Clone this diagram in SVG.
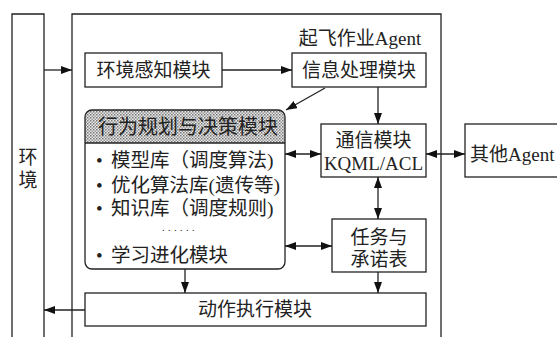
<svg xmlns="http://www.w3.org/2000/svg" width="557" height="337" viewBox="0 0 557 337">
<style>
.b{fill:#fff;stroke:#222;stroke-width:1.3}
.l{fill:none;stroke:#222;stroke-width:1.3}
.t{font-family:"Liberation Serif","Noto Sans CJK SC",serif;font-size:19px;fill:#222}
.m{text-anchor:middle}
.s{font-size:19.5px}
</style>
<defs>
<marker id="a" markerUnits="userSpaceOnUse" markerWidth="12" markerHeight="10" refX="11" refY="4" orient="auto-start-reverse">
<path d="M0,0 L11,4 L0,8 Z" fill="#111"/>
</marker>
<pattern id="h" width="3" height="3" patternUnits="userSpaceOnUse">
<rect width="3" height="3" fill="#e8e8e8"/>
<rect width="1.5" height="1.5" fill="#777"/>
<rect x="1.5" y="1.5" width="1.5" height="1.5" fill="#999"/>
</pattern>
<clipPath id="hc"><rect x="85" y="110" width="200" height="33"/></clipPath>
</defs>
<rect width="557" height="337" fill="#fff"/>
<g id="env">
<path class="l" d="M12,340 V14 H44 V340"/>
<text class="t m" x="28" y="164">环</text>
<text class="t m" x="28" y="187">境</text>
</g>
<g id="agent">
<path class="l" d="M72,340 V14 H441 V340"/>
<text class="t m" x="360" y="45">起飞作业Agent</text>
</g>
<g id="perceive">
<rect class="b" x="85" y="53" width="137" height="34"/>
<text class="t m" x="153.5" y="77">环境感知模块</text>
</g>
<g id="info">
<rect class="b" x="292" y="53" width="134" height="34"/>
<text class="t m" x="359" y="77">信息处理模块</text>
</g>
<g id="plan">
<rect x="85" y="110" width="200" height="159" rx="7" fill="url(#h)" clip-path="url(#hc)"/>
<line class="l" x1="85" y1="143" x2="285" y2="143"/>
<rect class="l" x="85" y="110" width="200" height="159" rx="7"/>
<text class="t m" x="188" y="134" style="font-size:20px">行为规划与决策模块</text>
<text class="t" x="96" y="167">•</text>
<text class="t s" x="111" y="167">模型库（调度算法)</text>
<text class="t" x="96" y="192">•</text>
<text class="t s" x="111" y="192">优化算法库(遗传等)</text>
<text class="t" x="96" y="215">•</text>
<text class="t s" x="111" y="215">知识库（调度规则)</text>
<text class="t" x="162" y="231" style="font-size:10px;letter-spacing:3.5px">......</text>
<text class="t" x="96" y="262">•</text>
<text class="t s" x="111" y="262">学习进化模块</text>
</g>
<g id="comm">
<rect class="b" x="321" y="124" width="105" height="53"/>
<text class="t m" x="373.5" y="147">通信模块</text>
<text class="t m" x="373.5" y="170">KQML/ACL</text>
</g>
<g id="other">
<rect class="b" x="465" y="124" width="100" height="53"/>
<text class="t" x="470" y="161">其他Agent</text>
</g>
<g id="task">
<rect class="b" x="332" y="219" width="94" height="53"/>
<text class="t m" x="379" y="244">任务与</text>
<text class="t m" x="379" y="266">承诺表</text>
</g>
<g id="action">
<rect class="b" x="85" y="293" width="341" height="33"/>
<text class="t m" x="255" y="316">动作执行模块</text>
</g>
<g id="connectors">
<line class="l" x1="44" y1="70" x2="72" y2="70" marker-end="url(#a)"/>
<line class="l" x1="222" y1="70" x2="292" y2="70" marker-end="url(#a)"/>
<line class="l" x1="325" y1="88" x2="286" y2="110" marker-end="url(#a)"/>
<line class="l" x1="378" y1="87" x2="378" y2="124" marker-end="url(#a)"/>
<line class="l" x1="285" y1="154" x2="321" y2="154" marker-start="url(#a)" marker-end="url(#a)"/>
<line class="l" x1="426" y1="154" x2="465" y2="154" marker-start="url(#a)" marker-end="url(#a)"/>
<line class="l" x1="378" y1="177" x2="378" y2="219" marker-start="url(#a)" marker-end="url(#a)"/>
<line class="l" x1="285" y1="246" x2="332" y2="246" marker-start="url(#a)" marker-end="url(#a)"/>
<line class="l" x1="378" y1="272" x2="378" y2="293" marker-end="url(#a)"/>
<line class="l" x1="185" y1="269" x2="185" y2="293" marker-end="url(#a)"/>
<line class="l" x1="85" y1="310" x2="44" y2="310" marker-end="url(#a)"/>
</g>
</svg>
